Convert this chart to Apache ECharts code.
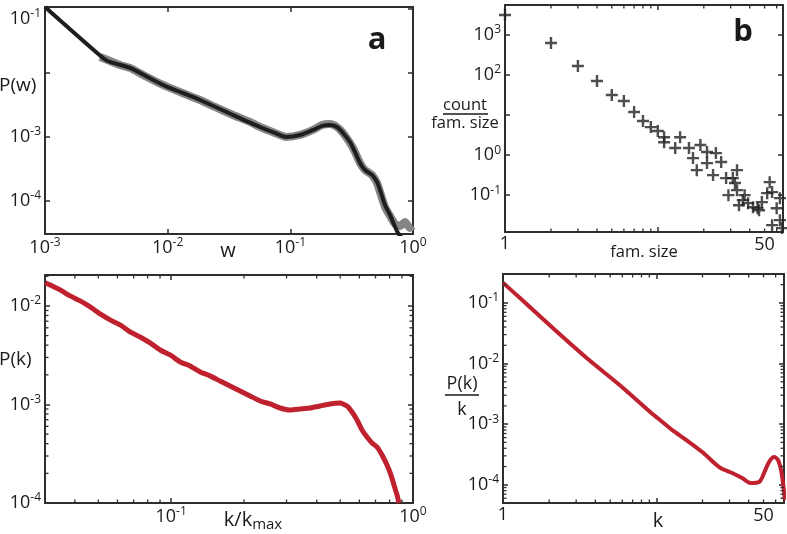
<!DOCTYPE html>
<html><head><meta charset="utf-8">
<script src="https://cdn.jsdelivr.net/npm/echarts@6/dist/echarts.min.js"></script>
<style>html,body{margin:0;padding:0;background:#fff}#c{width:787px;height:534px}</style>
</head><body><div id="c"></div>
<script>
// ---------- Panel a: weight distribution P(w) ----------
const aRawW = [0.002808,0.003388,0.004087,0.004930,0.006535,0.009161,0.01260,0.01835,0.02431,0.03409,0.04691,0.05657,0.07499,0.09218,0.1199,0.1530,0.1811,0.2105,0.2401,0.2688,0.3064,0.3366,0.3697,0.4062,0.4630,0.5087,0.5483,0.5910,0.6494,0.7129,0.7834,0.8603,0.9452,1.0];
const aRawP = [0.01768,0.01531,0.01326,0.01190,0.008917,0.006447,0.005009,0.003755,0.002919,0.002187,0.001700,0.001419,0.001143,0.0009899,0.001064,0.001274,0.001526,0.001581,0.001419,0.001143,0.0007973,0.0005764,0.0003879,0.0003014,0.0002518,0.0001887,0.0001224,0.00007946,0.00005744,0.00004306,0.00004007,0.00004627,0.00003728,0.00004007];
const aFitW = [0.001,0.002971,0.003388,0.004930,0.009161,0.01835,0.03409,0.05657,0.07499,0.09218,0.1199,0.1530,0.1811,0.2105,0.2401,0.2688,0.3064,0.3366,0.3697,0.4062,0.4630,0.5087,0.5483,0.5910,0.6494,0.7547,0.8445];
const aFitP = [0.1072,0.01706,0.01477,0.01190,0.006447,0.003755,0.002187,0.001419,0.001143,0.0009899,0.001064,0.001274,0.001472,0.001526,0.001419,0.001143,0.0008266,0.0005764,0.0003879,0.0003014,0.0002518,0.0001956,0.0001316,0.0000854,0.0000596,0.0000311,0.0000242];

// ---------- Panel b: count / family size ----------
const bSize = [1,2,3,4,5,6,7,8,9,10,11,14,11,13,16,19,17,18,21,21,24,23,26,28,31,33,32,29,33,36,34,39,42,45,48,52,54,56,63,60,56,63,65,46,37];
const bCount = [3160,631,168,71,31.6,22.4,11.9,7.1,5.0,4.0,2.8,2.8,2.1,1.5,1.5,1.78,0.84,0.42,1.19,0.63,1.12,0.316,0.67,0.266,0.266,0.42,0.2,0.1,0.133,0.075,0.056,0.063,0.05,0.047,0.067,0.112,0.211,0.119,0.084,0.047,0.0178,0.0237,0.015,0.042,0.1];

// ---------- Panel c: P(k) vs k/kmax ----------
const cK = [0.03015,0.03224,0.03478,0.03825,0.04207,0.04628,0.05088,0.05596,0.06155,0.06770,0.07444,0.08186,0.09005,0.09906,0.1090,0.1198,0.1318,0.1449,0.1594,0.1753,0.1928,0.2121,0.2332,0.2565,0.2821,0.3102,0.3412,0.3753,0.4127,0.4539,0.4992,0.5336,0.5597,0.5869,0.6156,0.6455,0.6769,0.7101,0.7447,0.7809,0.8111,0.8346,0.8589,0.8752];
const cP = [0.01712,0.01596,0.01454,0.01263,0.01124,0.00977,0.00829,0.00721,0.00641,0.00545,0.00484,0.00421,0.00357,0.00318,0.00270,0.00246,0.00214,0.00195,0.00173,0.00154,0.00137,0.00122,0.001085,0.001012,0.000921,0.000879,0.000900,0.000921,0.000966,0.001012,0.001036,0.000966,0.000839,0.000696,0.000551,0.000468,0.000407,0.000370,0.000307,0.000243,0.000192,0.000152,0.000121,0.0001];

// ---------- Panel d: P(k)/k vs k ----------
const dK = [1.0,1.290,2.113,3.514,5.758,9.434,10.17,12.72,15.69,19.93,25.70,31.22,36.27,41.48,46.77,50.41,54.31,58.54,62.15,65.01,66.98,69.0];
const dP = [0.2156,0.1205,0.03855,0.01233,0.004418,0.001469,0.001262,0.0007993,0.0005467,0.0003466,0.0001960,0.0001561,0.0001291,0.0001067,0.0001109,0.0001561,0.0002370,0.0002866,0.0002557,0.0001749,0.0001067,0.0000559];

// ---------- axis ranges and minor ticks ----------
const aX = [0.001, 1], aY = [3e-5, 0.107];
const bX = [1, 66], bY = [0.012, 5600];
const cX = [0.0301, 1], cY = [1e-4, 0.0206];
const dX = [1, 68], dY = [5e-5, 0.3];
const bMinorX = [2,3,4,5,6,7,8,9,20,30,40,50,60];
const cMinorX = [0.04,0.05,0.06,0.07,0.08,0.09,0.2,0.3,0.4,0.5,0.6,0.7,0.8,0.9];
const cMinorY = [0.0002,0.0003,0.0004,0.0005,0.0006,0.0007,0.0008,0.0009,0.002,0.003,0.004,0.005,0.006,0.007,0.008,0.009,0.02];
const dMinorX = [2,3,4,5,6,7,8,9,20,30,40,50,60];
const dMinorY = [0.00006,0.00007,0.00008,0.00009,0.0002,0.0003,0.0004,0.0005,0.0006,0.0007,0.0008,0.0009,0.002,0.003,0.004,0.005,0.006,0.007,0.008,0.009,0.02,0.03,0.04,0.05,0.06,0.07,0.08,0.09,0.2,0.3];

const FONT = '"Open Sans", "DejaVu Sans", sans-serif';
const TXT = '#1a1a1a', AX = '#2e2e2e';
const zip = (xs, ys) => xs.map((x, i) => [x, ys[i]]);

const rich = {
  b: {fontSize: 18, fontFamily: FONT, color: TXT},
  s: {fontSize: 12, fontFamily: FONT, color: TXT, padding: [0, 0, 10, 0]},
  bt: {fontSize: 18, fontFamily: FONT, color: TXT, padding: [20, 0, 0, 0]},
  st: {fontSize: 12, fontFamily: FONT, color: TXT, padding: [10, 0, 0, 0]}
};
function expFmt(hide, shiftDown) {
  return function (v) {
    const l = Math.log10(v), e = Math.round(l);
    if (Math.abs(l - e) > 1e-6) return '';
    if (hide.indexOf(e) >= 0) return '';
    if (shiftDown && shiftDown.indexOf(e) >= 0) return '{bt|10}{st|' + e + '}';
    return '{b|10}{s|' + e + '}';
  };
}
function oneFmt(v) { return Math.abs(v - 1) < 1e-9 ? '{b|1}' : ''; }

function axis(gi, pos, range, fmt) {
  return {
    type: 'log', logBase: 10, gridIndex: gi, position: pos, min: range[0], max: range[1],
    axisLine: {show: true, onZero: false, lineStyle: {color: AX, width: 2}},
    axisTick: {show: true, inside: true, length: 5, lineStyle: {color: AX, width: 1.5}},
    splitLine: {show: false},
    axisLabel: fmt ? {show: true, formatter: fmt, rich: rich, fontSize: 18, fontFamily: FONT, color: TXT,
      margin: (pos === 'left' ? 4 : 3)} : {show: false}
  };
}

function minorTicks(gi, vals, dir, other) {
  return {
    type: 'custom', xAxisIndex: gi, yAxisIndex: gi, silent: true, z: 5, clip: false,
    data: vals.map(v => dir === 'x' ? [v, other[0]] : [other[0], v]),
    renderItem: function (params, api) {
      const st = {stroke: AX, lineWidth: 1.3};
      if (dir === 'x') {
        const v = api.value(0);
        const p1 = api.coord([v, other[0]]), p2 = api.coord([v, other[1]]);
        return {type: 'group', children: [
          {type: 'line', shape: {x1: p1[0], y1: p1[1], x2: p1[0], y2: p1[1] - 3.5}, style: st},
          {type: 'line', shape: {x1: p2[0], y1: p2[1], x2: p2[0], y2: p2[1] + 3.5}, style: st}]};
      } else {
        const v = api.value(1);
        const p1 = api.coord([other[0], v]), p2 = api.coord([other[1], v]);
        return {type: 'group', children: [
          {type: 'line', shape: {x1: p1[0], y1: p1[1], x2: p1[0] + 3.5, y2: p1[1]}, style: st},
          {type: 'line', shape: {x1: p2[0], y1: p2[1], x2: p2[0] - 3.5, y2: p2[1]}, style: st}]};
      }
    }
  };
}
function textAt(gi, val, yv, label) {
  return {
    type: 'custom', xAxisIndex: gi, yAxisIndex: gi, silent: true, clip: false,
    data: [[val, yv]],
    renderItem: function (params, api) {
      const p = api.coord([api.value(0), api.value(1)]);
      return {type: 'text', style: {text: label, x: p[0], y: p[1] + 4, align: 'center', verticalAlign: 'top',
        fontSize: 18, fontFamily: FONT, fill: TXT}};
    }
  };
}

const chart = echarts.init(document.getElementById('c'), null, {renderer: 'canvas'});
const plus = 'path://M4,0H6V4H10V6H6V10H4V6H0V4H4Z';

chart.setOption({
  animation: false,
  backgroundColor: '#fff',
  grid: [
    {left: 45, top: 7, width: 368, height: 227},
    {left: 505, top: 5, width: 278, height: 227},
    {left: 45, top: 275, width: 368, height: 228},
    {left: 503, top: 274, width: 282, height: 229}
  ],
  xAxis: [
    axis(0, 'bottom', aX, expFmt([])),
    axis(1, 'bottom', bX, oneFmt),
    axis(2, 'bottom', cX, expFmt([])),
    axis(3, 'bottom', dX, oneFmt),
    axis(0, 'top', aX, null),
    axis(1, 'top', bX, null),
    axis(2, 'top', cX, null),
    axis(3, 'top', dX, null)
  ],
  yAxis: [
    axis(0, 'left', aY, expFmt([-2], [-1])),
    axis(1, 'left', bY, expFmt([1])),
    axis(2, 'left', cY, expFmt([])),
    axis(3, 'left', dY, expFmt([])),
    axis(0, 'right', aY, null),
    axis(1, 'right', bY, null),
    axis(2, 'right', cY, null),
    axis(3, 'right', dY, null)
  ],
  series: [
    {type: 'line', xAxisIndex: 0, yAxisIndex: 0, data: zip(aRawW, aRawP), showSymbol: false, smooth: 0.2,
      lineStyle: {color: '#858585', width: 8, cap: 'butt', join: 'round'}, z: 2},
    {type: 'line', xAxisIndex: 0, yAxisIndex: 0, data: zip(aFitW, aFitP), showSymbol: false, smooth: 0.25,
      lineStyle: {color: '#1e1e1e', width: 4, join: 'round'}, z: 3},
    {type: 'scatter', xAxisIndex: 1, yAxisIndex: 1, data: zip(bSize, bCount), symbol: plus, symbolSize: 12,
      itemStyle: {color: '#222'}, z: 3},
    {type: 'line', xAxisIndex: 2, yAxisIndex: 2, data: zip(cK, cP), showSymbol: false, smooth: 0.15,
      lineStyle: {color: '#c0212f', width: 5, join: 'round'}, z: 3},
    {type: 'line', xAxisIndex: 3, yAxisIndex: 3, data: zip(dK, dP), showSymbol: false, smooth: 0.3,
      lineStyle: {color: '#c0212f', width: 4, join: 'round'}, z: 3},
    minorTicks(1, bMinorX, 'x', bY),
    minorTicks(2, cMinorX, 'x', cY),
    minorTicks(2, cMinorY, 'y', cX),
    minorTicks(3, dMinorX, 'x', dY),
    minorTicks(3, dMinorY, 'y', dX),
    textAt(1, 50, bY[0], '50'),
    textAt(3, 50, dY[0], '50')
  ],
  graphic: [
    {type: 'text', x: 377, y: 40, style: {text: 'a', font: 'bold 31px ' + FONT, fill: TXT, align: 'center', verticalAlign: 'middle'}},
    {type: 'text', x: 743, y: 32, style: {text: 'b', font: 'bold 31px ' + FONT, fill: TXT, align: 'center', verticalAlign: 'middle'}},
    {type: 'text', x: -1, y: 86, style: {text: 'P(w)', font: '19px ' + FONT, fill: TXT, align: 'left', verticalAlign: 'middle'}},
    {type: 'text', x: 228, y: 251, style: {text: 'w', font: '20px ' + FONT, fill: TXT, align: 'center', verticalAlign: 'middle'}},
    {type: 'text', x: 644, y: 252, style: {text: 'fam. size', font: '16.5px ' + FONT, fill: TXT, align: 'center', verticalAlign: 'middle'}},
    {type: 'text', x: 465, y: 105, style: {text: 'count', font: '16.5px ' + FONT, fill: TXT, align: 'center', verticalAlign: 'middle'}},
    {type: 'line', shape: {x1: 443, y1: 114, x2: 488, y2: 114}, style: {stroke: TXT, lineWidth: 1.3}},
    {type: 'text', x: 465, y: 123, style: {text: 'fam. size', font: '16.5px ' + FONT, fill: TXT, align: 'center', verticalAlign: 'middle'}},
    {type: 'text', x: -1, y: 360, style: {text: 'P(k)', font: '19px ' + FONT, fill: TXT, align: 'left', verticalAlign: 'middle'}},
    {type: 'text', x: 253, y: 520, style: {text: 'k/k{sub|max}', font: '20px ' + FONT, fill: TXT, align: 'center', verticalAlign: 'middle',
      rich: {sub: {fontSize: 15, fontFamily: FONT, fill: TXT, padding: [10, 0, 0, 0]}}}},
    {type: 'text', x: 658, y: 521, style: {text: 'k', font: '20px ' + FONT, fill: TXT, align: 'center', verticalAlign: 'middle'}},
    {type: 'text', x: 462, y: 384, style: {text: 'P(k)', font: '18px ' + FONT, fill: TXT, align: 'center', verticalAlign: 'middle'}},
    {type: 'line', shape: {x1: 445, y1: 395, x2: 479, y2: 395}, style: {stroke: TXT, lineWidth: 1.3}},
    {type: 'text', x: 462, y: 410, style: {text: 'k', font: '18px ' + FONT, fill: TXT, align: 'center', verticalAlign: 'middle'}}
  ]
});
</script>
</body></html>
